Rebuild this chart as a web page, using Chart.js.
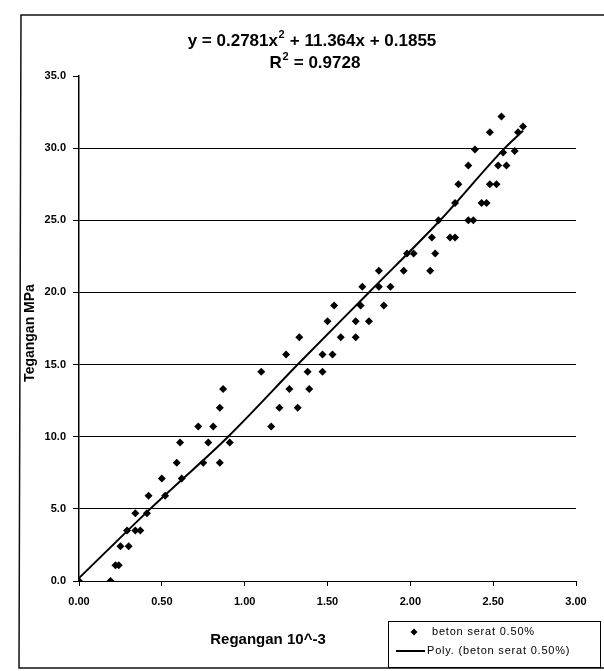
<!DOCTYPE html>
<html><head><meta charset="utf-8">
<script src="https://cdn.jsdelivr.net/npm/chart.js@4.4.1/dist/chart.umd.min.js"></script>
<style>html,body{margin:0;padding:0;background:#fff;}canvas{display:block;}</style>
</head><body>
<canvas id="c" width="604" height="671"></canvas>
<script>
const titleLines = ["y = 0.2781x² + 11.364x + 0.1855", "R² = 0.9728"];
const xTitle = "Regangan 10^-3";
const yTitle = "Tegangan MPa";
const seriesName = "beton serat 0.50%";
const trendName = "Poly. (beton serat 0.50%)";
const xTickStep = 0.5, xMin = 0, xMax = 3;
const yTickStep = 5, yMin = 0, yMax = 35;

const strainX = [0,0.19, 0.22,0.24, 0.25,0.30, 0.29,0.34,0.37, 0.34,0.41, 0.42,0.52, 0.50,0.62,
  0.59,0.75,0.85, 0.61,0.78,0.91, 0.72,0.81,1.16, 0.85,1.21,1.32, 0.87,1.27,1.39,
  1.10,1.38,1.47, 1.25,1.47,1.53, 1.33,1.58,1.67, 1.50,1.67,1.75, 1.54,1.70,1.84,
  1.71,1.81,1.88, 1.81,1.96,2.12, 1.98,2.02,2.15, 2.13,2.24,2.27, 2.17,2.35,2.38,
  2.27,2.43,2.46, 2.29,2.48,2.52, 2.35,2.53,2.58, 2.39,2.56,2.63, 2.48,2.65, 2.55,2.68];
const stressY = [0,0, 1.1,1.1, 2.4,2.4, 3.5,3.5,3.5, 4.7,4.7, 5.9,5.9, 7.1,7.1,
  8.2,8.2,8.2, 9.6,9.6,9.6, 10.7,10.7,10.7, 12.0,12.0,12.0, 13.3,13.3,13.3,
  14.5,14.5,14.5, 15.7,15.7,15.7, 16.9,16.9,16.9, 18.0,18.0,18.0, 19.1,19.1,19.1,
  20.4,20.4,20.4, 21.5,21.5,21.5, 22.7,22.7,22.7, 23.8,23.8,23.8, 25.0,25.0,25.0,
  26.2,26.2,26.2, 27.5,27.5,27.5, 28.8,28.8,28.8, 29.9,29.7,29.8, 31.1,31.1, 32.2,31.5];
const trendX = [0, 0.43, 0.90, 1.32, 1.75, 2.18, 2.57, 2.68];
const trendY = [0.2, 5.0, 10.0, 15.0, 20.0, 25.0, 30.0, 31.2];

const FONT = "'Liberation Sans', Arial, sans-serif";

function drawSupText(ctx, text, cx, cy, size) {
  // renders '²' as a raised smaller "2"
  const parts = text.split('²');
  const main = "bold " + size + "px " + FONT;
  const sup = "bold " + Math.round(size * 0.65) + "px " + FONT;
  let total = 0;
  parts.forEach((p, i) => {
    ctx.font = main; total += ctx.measureText(p).width;
    if (i < parts.length - 1) { ctx.font = sup; total += ctx.measureText('2').width + 1; }
  });
  let x = cx - total / 2;
  ctx.textAlign = 'left'; ctx.textBaseline = 'middle';
  parts.forEach((p, i) => {
    ctx.font = main; ctx.fillText(p, x, cy); x += ctx.measureText(p).width;
    if (i < parts.length - 1) {
      ctx.font = sup; ctx.fillText('2', x + 0.5, cy - size * 0.38); x += ctx.measureText('2').width + 1;
    }
  });
}

const decor = {
  id: 'decor',
  afterDraw(chart) {
    const ctx = chart.ctx;
    ctx.save();
    // frame
    ctx.strokeStyle = '#111'; ctx.lineWidth = 1.5;
    ctx.beginPath();
    ctx.moveTo(604, 15); ctx.lineTo(21, 15); ctx.lineTo(19, 668); ctx.lineTo(604, 668);
    ctx.stroke();
    // title
    ctx.fillStyle = '#000';
    drawSupText(ctx, titleLines[0], 312, 41, 17);
    drawSupText(ctx, titleLines[1], 315, 63, 17);
    // axis titles
    ctx.textAlign = 'center'; ctx.textBaseline = 'middle';
    ctx.font = "bold 15px " + FONT;
    ctx.fillText(xTitle, 268, 640);
    ctx.save();
    ctx.translate(30, 333); ctx.rotate(-Math.PI / 2);
    ctx.font = "bold 14px " + FONT;
    ctx.fillText(yTitle, 0, 0);
    ctx.restore();
    // legend
    ctx.lineWidth = 1; ctx.strokeStyle = '#000';
    ctx.strokeRect(388.5, 621.5, 212, 46);
    ctx.beginPath();
    const dx = 414, dy = 632, r = 3.5;
    ctx.moveTo(dx, dy - r); ctx.lineTo(dx + r, dy); ctx.lineTo(dx, dy + r); ctx.lineTo(dx - r, dy); ctx.closePath();
    ctx.fill();
    ctx.lineWidth = 2;
    ctx.beginPath(); ctx.moveTo(396, 651); ctx.lineTo(425, 651); ctx.stroke();
    ctx.textAlign = 'left';
    ctx.font = "11px " + FONT;
    if ('letterSpacing' in ctx) ctx.letterSpacing = '0.8px';
    ctx.fillText(seriesName, 432, 632);
    ctx.fillText(trendName, 427, 651);
    ctx.restore();
  }
};

new Chart(document.getElementById('c'), {
  type: 'scatter',
  data: {
    datasets: [
      {
        label: seriesName,
        data: strainX.map((x, i) => ({x: x, y: stressY[i]})),
        pointStyle: 'rectRot', pointRadius: 4, pointHoverRadius: 4,
        backgroundColor: '#000', borderColor: '#000', borderWidth: 0, showLine: false
      },
      {
        label: trendName,
        data: trendX.map((x, i) => ({x: x, y: trendY[i]})),
        showLine: true, pointRadius: 0, borderColor: '#000', borderWidth: 2,
        cubicInterpolationMode: 'monotone', fill: false
      }
    ]
  },
  options: {
    responsive: false, animation: false, devicePixelRatio: 1,
    layout: {padding: {left: 0, top: 76, right: 28, bottom: 0}},
    plugins: {legend: {display: false}, title: {display: false}, tooltip: {enabled: false}},
    scales: {
      x: {
        type: 'linear', position: 'bottom', min: xMin, max: xMax,
        afterFit(s) { s.height = 90; },
        ticks: {stepSize: xTickStep, callback: v => v.toFixed(2), color: '#000',
          font: {family: FONT, size: 11, weight: 'bold'}, padding: 9, maxRotation: 0},
        grid: {drawOnChartArea: false, drawTicks: true, tickLength: 5, color: '#000', tickColor: '#000'},
        border: {color: '#000', width: 1}
      },
      y: {
        type: 'linear', min: yMin, max: yMax,
        afterFit(s) { s.width = 79; },
        ticks: {stepSize: yTickStep, callback: v => v.toFixed(1), color: '#000',
          font: {family: FONT, size: 11, weight: 'bold'}, padding: 7},
        grid: {color: c => (c.tick && (c.tick.value === 35 || c.tick.value === 0)) ? 'rgba(0,0,0,0)' : '#000',
          tickColor: '#000', tickLength: 6, lineWidth: 1},
        border: {color: '#000', width: 1.5}
      }
    }
  },
  plugins: [decor]
});
</script>
</body></html>
